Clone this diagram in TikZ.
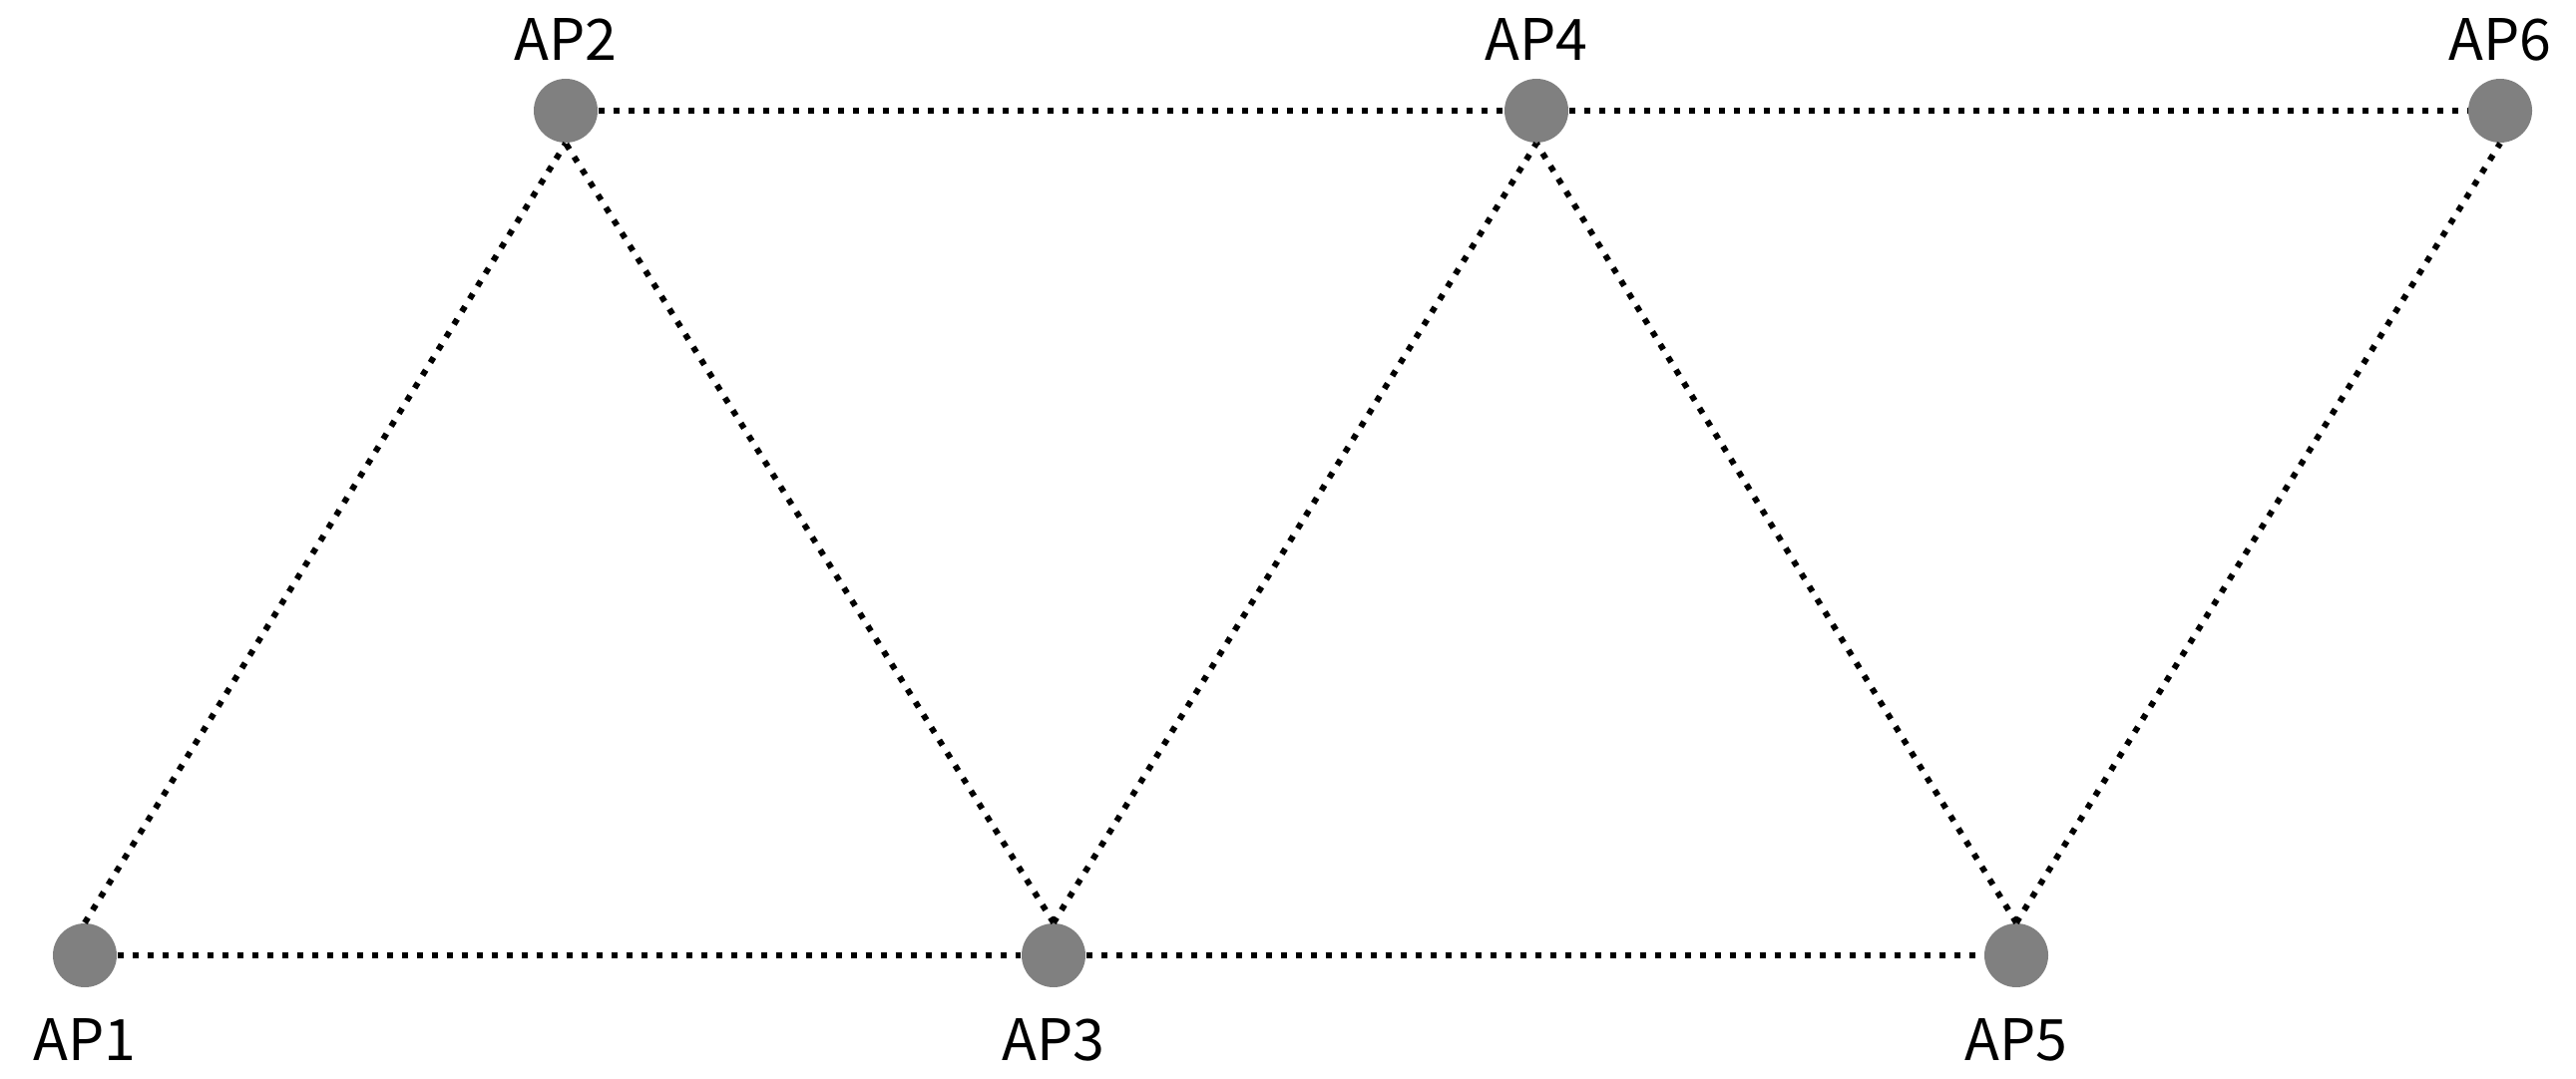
\documentclass[tikz,border=0pt]{standalone}
\usepackage{fontspec}
\setmainfont{Noto Sans CJK KR}
\usetikzlibrary{positioning}
\begin{document}
\begin{tikzpicture}[x=0.1mm, y=-0.1mm,
    ap/.style={circle, fill=black!50, minimum size=6.4mm, inner sep=0pt},
    aplabel/.style={font=\fontsize{16.3}{20}\selectfont, inner sep=0pt},
    link/.style={line width=0.6mm, dash pattern=on 0.6mm off 0.9mm}]
                \useasboundingbox (0,0) rectangle (2582,1082);
                % Access points (top row)
                \node[ap] (AP2) at (567,111) {};
                \node[ap] (AP4) at (1540,111) {};
                \node[ap] (AP6) at (2506,111) {};
                
                % Access points (bottom row)
                \node[ap] (AP1) at (85,958) {};
                \node[ap] (AP3) at (1056,958) {};
                \node[ap] (AP5) at (2021,958) {};
                
                % Labels
                \foreach \i in {2,4,6} {
                    \node[aplabel, above=5mm of AP\i.center, anchor=base] (L\i) {AP\i};
                }
                \foreach \i in {1,3,5} {
                    \node[aplabel, below=10.5mm of AP\i.center, anchor=base] (L\i) {AP\i};
                }
                
                % Horizontal links
                \foreach \a/\b in {AP1/AP3, AP3/AP5, AP2/AP4, AP4/AP6} {
                    \draw[link] (\a) -- (\b);
                }
                
                % Diagonal links (bottom row to top row)
                \foreach \a/\b in {AP1/AP2, AP3/AP2, AP3/AP4, AP5/AP4, AP5/AP6} {
                    \draw[link] (\a.north) -- (\b.south);
                }
            \end{tikzpicture}
\end{document}
